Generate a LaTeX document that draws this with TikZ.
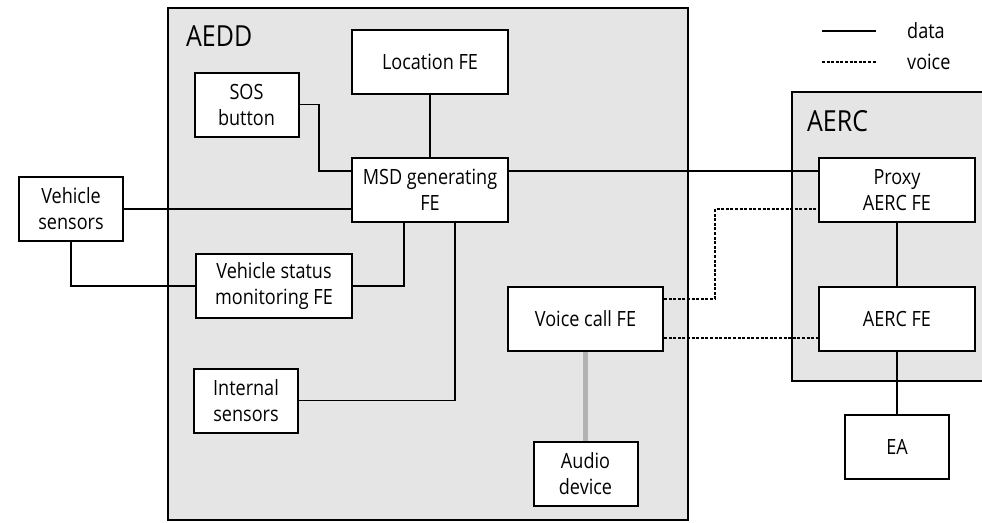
\documentclass[tikz,border=0pt]{standalone}
\usepackage{fontspec}
\setmainfont{Open Sans}[FakeStretch=0.86]
\begin{document}
\begin{tikzpicture}[x=1pt,y=-1pt,
        box/.style={draw, fill=white, line width=2pt, minimum width=156pt, minimum height=64pt, align=center, inner sep=2pt},
        dev/.style={box, minimum width=104pt},
        group/.style={draw, fill=black!10, line width=2pt},
        data/.style={line width=1.8pt},
        voice/.style={line width=1.8pt, dash pattern=on 3pt off 1.6pt},
        font=\fontsize{21}{26}\selectfont]
        \useasboundingbox (0,0) rectangle (982,522);
        % groups
        \draw[group] (168,8) rectangle (688,520);
        \draw[group] (792,92) rectangle (995,381);
        \node[anchor=west, inner sep=0, font=\fontsize{29}{34}\selectfont] (aeddlbl) at (186,36) {AEDD};
        \node[anchor=west, inner sep=0, font=\fontsize{29}{34}\selectfont] (aerclbl) at (807,121) {AERC};
        % blocks
        \node[box] (loc) at (430,61.5) {Location FE};
        \node[dev] (sos) at (246.5,104.5) {SOS\\button};
        \node[box] (msd) at (430,190) {MSD generating\\FE};
        \node[dev] (vs) at (71,209) {Vehicle\\sensors};
        \node[box] (vsm) at (274,286) {Vehicle status\\monitoring FE};
        \node[dev] (ints) at (246,400.5) {Internal\\sensors};
        \node[box, minimum width=155pt] (vc) at (585.5,319) {Voice call FE};
        \node[dev] (aud) at (585.5,473.5) {Audio\\device};
        \node[box] (proxy) at (897,190) {Proxy\\AERC FE};
        \node[box] (aercfe) at (897,318.5) {AERC FE};
        \node[dev] (ea) at (897,447) {EA};
        % legend
        \node[anchor=west, inner sep=0] (ldata) at (907,31) {data};
        \node[anchor=west, inner sep=0] (lvoice) at (907,62) {voice};
        \coordinate (ld) at (822,31);
        \coordinate (lv) at (822,62);
        \draw[data] (ld) -- ++(54,0);
        \draw[voice] (lv) -- ++(54,0);
        % data links
        \draw[data] (loc.south) -- (msd.north);
        \draw[data] (sos.east) -| (319,171) -- (msd.west |- 0,171);
        \draw[data] (vs.east) -- (msd.west |- vs.east);
        \draw[data] (vs.south) |- (vsm.west);
        \draw[data] (vsm.east) -| (404,0 |- msd.south);
        \draw[data] (ints.east) -| (455,0 |- msd.south);
        \draw[data] (msd.east |- 0,171) -- (proxy.west |- 0,171);
        \draw[data] (proxy.south) -- (aercfe.north);
        \draw[data] (aercfe.south) -- (ea.north);
        % voice links
        \draw[voice] (vc.east |- 0,299) -| (715,209) -- (proxy.west |- 0,209);
        \draw[voice] (vc.east |- 0,338) -- (aercfe.west |- 0,338);
        \draw[line width=5pt, black!30] (vc.south) -- (aud.north);
\end{tikzpicture}
\end{document}
